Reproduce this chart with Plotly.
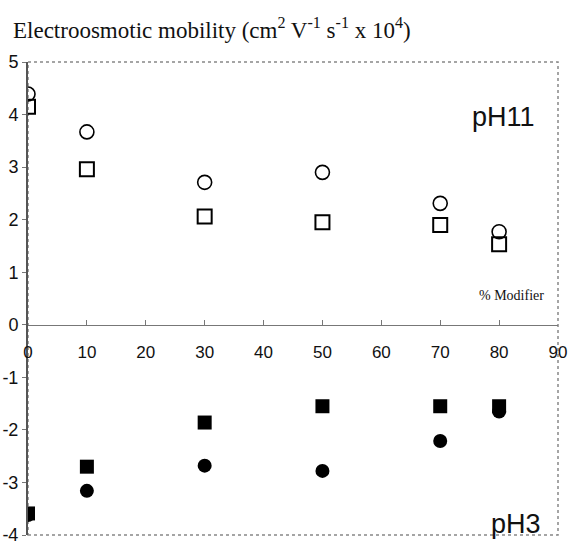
import plotly.graph_objects as go

modifier = [0, 10, 30, 50, 70, 80]
ph11_circle = [4.39, 3.67, 2.71, 2.90, 2.31, 1.77]
ph11_square = [4.15, 2.96, 2.06, 1.95, 1.90, 1.53]
ph3_square = [-3.59, -2.70, -1.86, -1.55, -1.55, -1.55]
ph3_circle = [-3.62, -3.16, -2.68, -2.78, -2.21, -1.65]
x_ticks = [0, 10, 20, 30, 40, 50, 60, 70, 80, 90]
y_ticks = [-4, -3, -2, -1, 0, 1, 2, 3, 4, 5]
y_tick_labels = ["-4", "-3", "-2", "-1", "0", "1", "2", "3", "4", "5"]

fig = go.Figure()
fig.add_trace(go.Scatter(x=modifier, y=ph11_circle, mode="markers",
                         marker=dict(symbol="circle-open", size=14, color="black", line=dict(width=1.6))))
fig.add_trace(go.Scatter(x=modifier, y=ph11_square, mode="markers",
                         marker=dict(symbol="square-open", size=14, color="black", line=dict(width=2))))
fig.add_trace(go.Scatter(x=modifier, y=ph3_circle, mode="markers",
                         marker=dict(symbol="circle", size=14, color="black")))
fig.add_trace(go.Scatter(x=modifier, y=ph3_square, mode="markers",
                         marker=dict(symbol="square", size=14, color="black")))

fig.update_layout(
    width=569, height=547,
    margin=dict(l=28, r=11, t=62, b=12, autoexpand=False),
    paper_bgcolor="white", plot_bgcolor="white",
    showlegend=False,
    font=dict(family="Liberation Sans, Arial", color="#111"),
    xaxis=dict(range=[0, 90], tickvals=x_ticks, anchor="free", position=4/9,
               showline=True, linecolor="#777", linewidth=1,
               ticks="inside", ticklen=5, tickcolor="#777",
               ticklabelstandoff=12, automargin=False,
               showgrid=False, zeroline=False,
               tickfont=dict(size=17, family="Liberation Sans, Arial", color="#111")),
    yaxis=dict(range=[-4, 5], tickvals=y_ticks, ticktext=y_tick_labels,
               showline=True, linecolor="#555", linewidth=2,
               ticks="outside", ticklen=4, tickcolor="#777", automargin=False,
               showgrid=False, zeroline=False,
               tickfont=dict(size=18, family="Liberation Sans, Arial", color="#111")),
    shapes=[dict(type="rect", xref="paper", yref="paper", x0=0, y0=0, x1=1, y1=1,
                 line=dict(color="#888", width=1.5, dash="dot"), layer="below")],
    annotations=[
        dict(text="Electroosmotic mobility (cm<sup>2</sup> V<sup>-1</sup> s<sup>-1</sup> x 10<sup>4</sup>)",
             xref="paper", yref="paper", x=-0.033, y=1.0, yshift=34, xanchor="left", yanchor="middle",
             showarrow=False, font=dict(family="Liberation Serif, Times New Roman", size=23, color="#111")),
        dict(text="pH11", x=86.5, y=3.95, xanchor="right", yanchor="middle", showarrow=False,
             font=dict(size=27, family="Liberation Sans, Arial", color="#111")),
        dict(text="pH3", x=87.5, y=-3.8, xanchor="right", yanchor="middle", showarrow=False,
             font=dict(size=27, family="Liberation Sans, Arial", color="#111")),
        dict(text="% Modifier", x=88, y=0.55, xanchor="right", yanchor="middle", showarrow=False,
             font=dict(size=14, family="Liberation Serif, Times New Roman", color="#111")),
    ],
)

fig.write_html("out.html", config={"displayModeBar": False},
               post_script="document.body.style.margin='0';document.body.style.overflow='hidden';")
